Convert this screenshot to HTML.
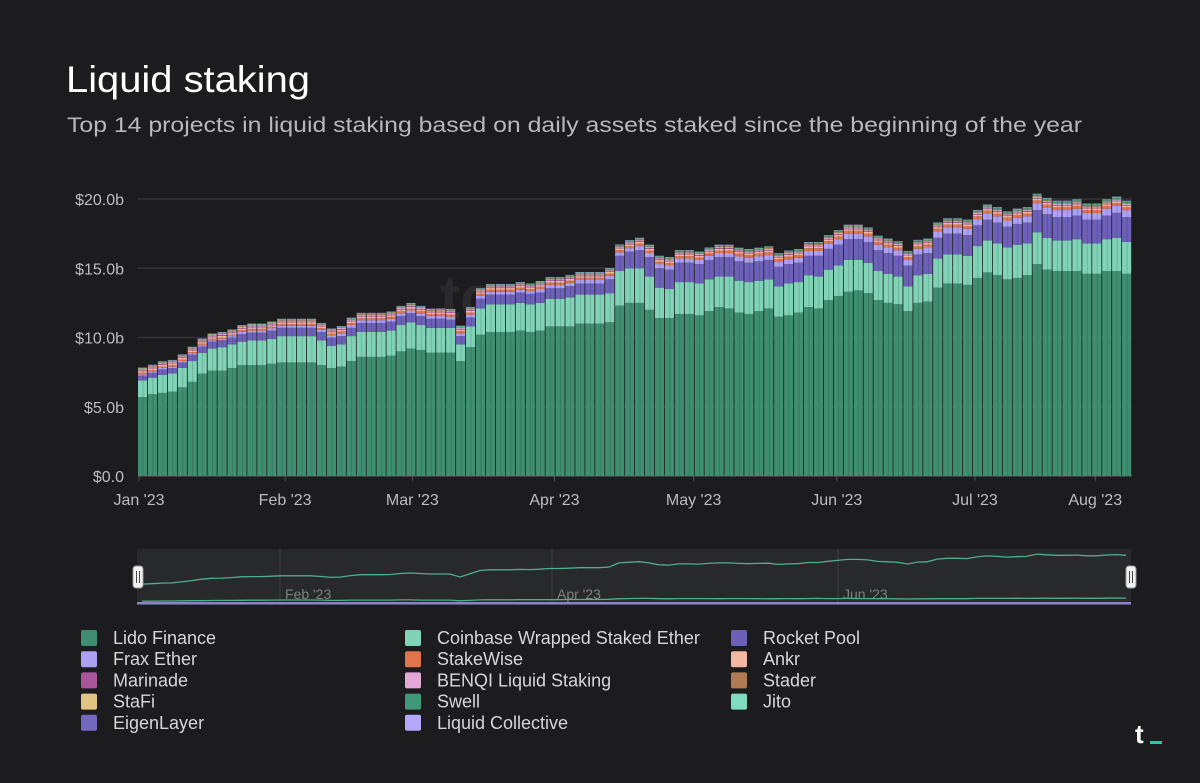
<!DOCTYPE html>
<html><head><meta charset="utf-8"><style>
html,body{margin:0;padding:0;background:#1c1c1e;}
svg{display:block;font-family:"Liberation Sans",sans-serif;}
</style></head><body>
<svg id="chart" width="1200" height="783" viewBox="0 0 1200 783">
<rect x="0" y="0" width="1200" height="783" fill="#1c1c1e"/>
<text x="66" y="92" font-size="37" fill="#ffffff" textLength="244" lengthAdjust="spacingAndGlyphs">Liquid staking</text>
<text x="67" y="132" font-size="21" fill="#b8b8bb" textLength="1015" lengthAdjust="spacingAndGlyphs">Top 14 projects in liquid staking based on daily assets staked since the beginning of the year</text>
<g id="grid"></g>
<g id="yaxis"></g>
<text x="440" y="318" font-size="60" font-weight="bold" fill="#2a2a2d">tc</text>
<g id="bars"></g>
<g id="xaxis"></g>
<g id="nav"></g>
<g id="legend"></g>
<g>
<text x="1135" y="743" font-size="26" font-weight="bold" fill="#ffffff">t</text>
<rect x="1150" y="741" width="12" height="3" fill="#1fd1a0"/>
</g>
</svg>
<script>
const yTicks = [0, 5, 10, 15, 20];
const yTickLabels = ["$0.0", "$5.0b", "$10.0b", "$15.0b", "$20.0b"];
const xTickLabels = ["Jan '23","Feb '23","Mar '23","Apr '23","May '23","Jun '23","Jul '23","Aug '23"];
const xTickBins = [0.1, 14.8, 27.6, 41.9, 55.9, 70.3, 84.2, 96.3];
const lido = [5.7,5.9,6.0,6.1,6.4,6.8,7.4,7.6,7.6,7.8,8.0,8.0,8.0,8.1,8.2,8.2,8.2,8.2,8.0,7.8,7.9,8.3,8.6,8.6,8.6,8.7,9.0,9.2,9.1,8.9,8.9,8.9,8.3,9.3,10.2,10.4,10.4,10.4,10.5,10.4,10.5,10.8,10.8,10.8,11.0,11.0,11.0,11.1,12.3,12.5,12.5,12.0,11.4,11.4,11.7,11.7,11.6,11.9,12.2,12.1,11.8,11.7,11.9,12.1,11.5,11.6,11.8,12.2,12.1,12.7,13.0,13.3,13.4,13.2,12.7,12.5,12.4,11.9,12.5,12.6,13.6,13.9,13.9,13.8,14.3,14.7,14.5,14.2,14.3,14.5,15.3,14.9,14.8,14.8,14.8,14.6,14.6,14.8,14.8,14.6];
const coinbase = [1.2,1.2,1.3,1.3,1.4,1.5,1.5,1.6,1.7,1.7,1.7,1.8,1.8,1.8,1.9,1.9,1.9,1.9,1.8,1.6,1.6,1.8,1.8,1.8,1.8,1.8,1.9,1.9,1.8,1.8,1.8,1.8,1.2,1.5,1.9,2.0,2.0,2.0,2.0,2.0,2.0,2.0,2.0,2.1,2.1,2.1,2.1,2.1,2.5,2.5,2.5,2.4,2.2,2.1,2.3,2.3,2.3,2.3,2.2,2.3,2.3,2.3,2.2,2.1,2.2,2.3,2.2,2.3,2.3,2.2,2.2,2.3,2.2,2.2,2.1,2.1,2.0,1.8,2.0,2.0,2.1,2.1,2.1,2.1,2.3,2.3,2.3,2.3,2.4,2.3,2.3,2.3,2.2,2.2,2.3,2.2,2.2,2.3,2.4,2.3];
const rocketPool = [.35,.35,.4,.4,.4,.45,.45,.5,.5,.5,.55,.55,.55,.6,.6,.6,.6,.6,.6,.6,.6,.6,.65,.65,.65,.65,.65,.65,.65,.65,.65,.6,.6,.65,.7,.7,.7,.7,.75,.75,.75,.75,.75,.8,.8,.8,.8,1.0,1.1,1.2,1.3,1.4,1.4,1.4,1.4,1.4,1.4,1.4,1.4,1.4,1.4,1.4,1.4,1.4,1.4,1.4,1.4,1.4,1.5,1.5,1.5,1.5,1.5,1.5,1.5,1.5,1.5,1.5,1.5,1.5,1.5,1.5,1.5,1.5,1.5,1.5,1.5,1.5,1.5,1.5,1.6,1.7,1.7,1.7,1.7,1.7,1.7,1.7,1.8,1.8];
// minor series: one value per 10-bin period
const frax = [.1,.15,.2,.2,.25,.3,.35,.4,.45,.5];
const stakewise = [.1,.12,.14,.15,.16,.18,.2,.2,.2,.2];
const ankr = [.12,.12,.12,.12,.12,.12,.12,.12,.12,.12];
const marinade = [.05,.05,.05,.05,.05,.05,.05,.05,.05,.05];
const benqi = [.08,.08,.08,.08,.08,.08,.08,.08,.08,.08];
const stader = [.03,.03,.03,.03,.03,.03,.03,.03,.03,.03];
const stafi = [.03,.03,.03,.03,.03,.03,.03,.03,.03,.03];
const swell = [.01,.01,.02,.03,.04,.05,.06,.07,.08,.1];
const jito = [.04,.04,.04,.04,.04,.04,.04,.04,.04,.04];
const eigenLayer = [0,0,0,0,0,0,0,0.01,0.01,0.01];
const liquidCollective = [.02,.02,.02,.02,.02,.02,.02,.02,.02,.02];

const NS = "http://www.w3.org/2000/svg";
const X0 = 138, X1 = 1132, Y0 = 476, YPER = 13.85;
const N = lido.length, BW = (X1 - X0) / N;
const xPos = i => X0 + i * BW;
const yPos = v => Y0 - v * YPER;
function mk(tag, attrs, parent){const e=document.createElementNS(NS,tag);for(const k in attrs)e.setAttribute(k,attrs[k]);parent.appendChild(e);return e;}

const gGrid = document.getElementById('grid'), gY = document.getElementById('yaxis');
yTicks.forEach((t,k)=>{
  const l = mk('line',{x1:X0,x2:X1,y1:yPos(t),y2:yPos(t),stroke:t===0?'#4a4a4d':'#343437','stroke-width':1.5},gGrid);
  
  
  const tx = mk('text',{x:124,y:yPos(t)+6,'text-anchor':'end','font-size':16,fill:'#bdbdc0'},gY);
  tx.textContent = yTickLabels[k];
  
  
});

const series = [
 {name:'Lido Finance',color:'#3f8e72',get:i=>lido[i]},
 {name:'Coinbase Wrapped Staked Ether',color:'#80d3b7',get:i=>coinbase[i]},
 {name:'Rocket Pool',color:'#6c60b8',get:i=>rocketPool[i]},
 {name:'Frax Ether',color:'#aca0f5',get:i=>frax[Math.floor(i/10)]},
 {name:'StakeWise',color:'#e0744c',get:i=>stakewise[Math.floor(i/10)]},
 {name:'Ankr',color:'#f4b7a2',get:i=>ankr[Math.floor(i/10)]},
 {name:'Marinade',color:'#a9559b',get:i=>marinade[Math.floor(i/10)]},
 {name:'BENQI Liquid Staking',color:'#e4a8d8',get:i=>benqi[Math.floor(i/10)]},
 {name:'Stader',color:'#b07b52',get:i=>stader[Math.floor(i/10)]},
 {name:'StaFi',color:'#e3c383',get:i=>stafi[Math.floor(i/10)]},
 {name:'Swell',color:'#3f9878',get:i=>swell[Math.floor(i/10)]},
 {name:'Jito',color:'#7fdcbf',get:i=>jito[Math.floor(i/10)]},
 {name:'EigenLayer',color:'#7467bf',get:i=>eigenLayer[Math.floor(i/10)]},
 {name:'Liquid Collective',color:'#b3a8fa',get:i=>liquidCollective[Math.floor(i/10)]}
];

const gB = document.getElementById('bars');
const totals = [];
for(let i=0;i<N;i++){
  let acc=0;
  series.forEach(s=>{
    const v=s.get(i); if(!(v>0)) return;
    const r = mk('rect',{x:xPos(i),y:yPos(acc+v),width:BW-0.8,height:v*YPER,fill:s.color},gB);
    
    
    acc+=v;
  });
  totals.push(acc);
  const sep = mk('line',{x1:xPos(i)+BW/2,x2:xPos(i)+BW/2,y1:yPos(acc),y2:Y0,stroke:'#000',"stroke-opacity":0.18,'stroke-width':0.8},gB);
  
  
}

const gX = document.getElementById('xaxis');
xTickLabels.forEach((lab,k)=>{
  const x = xPos(xTickBins[k]);
  const tk = mk('line',{x1:x,x2:x,y1:Y0,y2:Y0+5,stroke:'#555','stroke-width':1},gX);
  
  
  const t = mk('text',{x:x,y:505,'text-anchor':'middle','font-size':16,fill:'#bdbdc0'},gX);
  t.textContent = lab;
  
  
});

// navigator
const gN = document.getElementById('nav');
const nb = mk('rect',{x:137,y:549,width:994,height:56,fill:'#27292a'},gN);


[[280,"Feb '23"],[552,"Apr '23"],[838,"Jun '23"]].forEach(([x,l])=>{
  const gl=mk('line',{x1:x,x2:x,y1:549,y2:605,stroke:'#3b3d3f','stroke-width':1},gN);
  
  
  const t=mk('text',{x:x+5,y:599,'font-size':14,fill:'#808083'},gN);
  t.textContent=l;
  
  
});
const nx = i => 137 + (i+0.5)*994/N;
const p1 = totals.map((t,i)=>(i?'L':'M')+nx(i).toFixed(1)+','+(603-t*2.4).toFixed(1)).join('');
const l1 = mk('path',{d:p1,fill:'none',stroke:'#4fae8c','stroke-width':1.3},gN);


const p2 = coinbase.map((c,i)=>(i?'L':'M')+nx(i).toFixed(1)+','+(603-(c+rocketPool[i])*1.2).toFixed(1)).join('');
const l2 = mk('path',{d:p2,fill:'none',stroke:'#4fae8c','stroke-width':1.3},gN);


const l3 = mk('rect',{x:137,y:602,width:994,height:2.5,fill:'#8a7fd0'},gN);


[138,1131].forEach((x,k)=>{
  const h=mk('rect',{x:x-5,y:566,width:10,height:22,rx:3,fill:'#f2f2f2',stroke:'#999','stroke-width':1},gN);
  
  
  mk('line',{x1:x-1.5,x2:x-1.5,y1:571,y2:583,stroke:'#444','stroke-width':1},gN);
  mk('line',{x1:x+1.5,x2:x+1.5,y1:571,y2:583,stroke:'#444','stroke-width':1},gN);
});

// legend
const gL = document.getElementById('legend');
const legendOrder = ['Lido Finance','Coinbase Wrapped Staked Ether','Rocket Pool','Frax Ether','StakeWise','Ankr','Marinade','BENQI Liquid Staking','Stader','StaFi','Swell','Jito','EigenLayer','Liquid Collective'];
const colX = [81,405,731];
legendOrder.forEach((name,k)=>{
  const s = series.find(q=>q.name===name);
  const cx = colX[k%3], cy = 638 + Math.floor(k/3)*21.2;
  const g = mk('g',{},gL);
  
  
  mk('rect',{x:cx,y:cy-8,width:16,height:16,rx:2,fill:s.color},g);
  const t = mk('text',{x:cx+32,y:cy+6,'font-size':18,fill:'#d6d6d8'},g);
  t.textContent = name;
});
</script>
</body></html>
